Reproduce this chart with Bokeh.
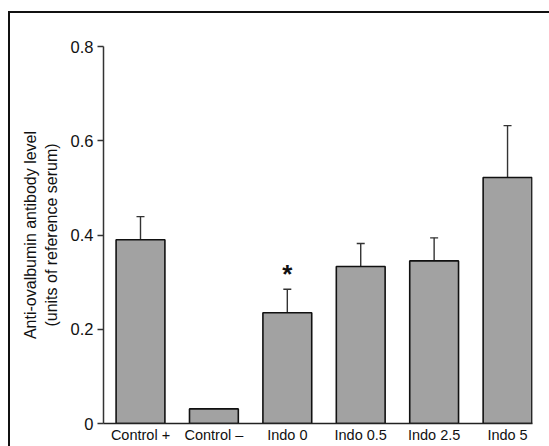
from bokeh.plotting import figure
from bokeh.models import FixedTicker, Whisker, ColumnDataSource, TeeHead
from bokeh.embed import file_html
from bokeh.resources import INLINE
from bokeh.core.properties import value

groups = ["Control +", "Control \u2013", "Indo 0", "Indo 0.5", "Indo 2.5", "Indo 5"]
levels = [0.390, 0.031, 0.235, 0.333, 0.345, 0.522]
errors = [0.049, 0.0, 0.050, 0.049, 0.049, 0.110]
y_ticks = [0, 0.2, 0.4, 0.6, 0.8]
y_tick_labels = ["0", "0.2", "0.4", "0.6", "0.8"]
star_group = 2
star_level = 0.318

xs = list(range(len(groups)))
src = ColumnDataSource(dict(x=xs, top=levels))

p = figure(width=539, height=433, output_backend="svg", toolbar_location=None,
           x_range=(-0.504, 5.34), y_range=(0, 0.8),
           min_border_left=93, min_border_right=17, min_border_top=33, min_border_bottom=23)
p.frame_width = 429
p.frame_height = 377
p.styles = {"border-top": "2px solid #111", "border-left": "2px solid #111",
            "margin-top": "11px", "margin-left": "8px"}

p.xgrid.visible = False
p.ygrid.visible = False
p.outline_line_color = None
p.background_fill_color = "white"

p.vbar(x="x", top="top", bottom=0, width=0.665, source=src,
       fill_color="#a2a2a2", line_color="#111111", line_width=1.6)

err_src = ColumnDataSource(dict(
    x=[x for x, e in zip(xs, errors) if e > 0],
    upper=[v + e for v, e in zip(levels, errors) if e > 0],
    lower=[v for v, e in zip(levels, errors) if e > 0],
))
w = Whisker(base="x", upper="upper", lower="lower", source=err_src, dimension="height",
            line_color="#333333", line_width=1.4,
            upper_head=TeeHead(size=8, line_color="#333333", line_width=1.4),
            lower_head=None)
p.add_layout(w)

p.text(x=[star_group], y=[star_level], text=["*"], text_align="center",
       text_baseline="middle", text_font=value("Liberation Sans"),
       text_font_size="26px", text_font_style="bold", text_color="#111111")

# y axis
p.yaxis.ticker = FixedTicker(ticks=y_ticks)
p.yaxis.major_label_overrides = {t: l for t, l in zip(y_ticks, y_tick_labels)}
p.yaxis.minor_tick_line_color = None
p.yaxis.major_tick_in = 0
p.yaxis.major_tick_out = 6
p.yaxis.axis_line_width = 1.5
p.yaxis.major_tick_line_width = 1.5
p.yaxis.axis_line_color = "#333333"
p.yaxis.major_tick_line_color = "#333333"
p.yaxis.major_label_text_font = "Liberation Sans"
p.yaxis.major_label_text_font_size = "16.5px"
p.yaxis.major_label_text_color = "#111111"
p.yaxis.major_label_standoff = 4
p.yaxis.axis_label = "Anti-ovalbumin antibody level\n(units of reference serum)"
p.yaxis.axis_label_text_font = "Liberation Sans"
p.yaxis.axis_label_text_font_size = "16px"
p.yaxis.axis_label_text_font_style = "normal"
p.yaxis.axis_label_text_color = "#111111"
p.yaxis.axis_label_standoff = 8

# x axis
p.xaxis.ticker = FixedTicker(ticks=xs)
p.xaxis.major_label_overrides = {x: g for x, g in zip(xs, groups)}
p.xaxis.minor_tick_line_color = None
p.xaxis.major_tick_line_color = None
p.xaxis.major_tick_out = 0
p.xaxis.major_tick_in = 0
p.xaxis.axis_line_width = 1.5
p.xaxis.axis_line_color = "#222222"
p.xaxis.major_label_text_font = "Liberation Sans"
p.xaxis.major_label_text_font_size = "14.5px"
p.xaxis.major_label_text_color = "#111111"
p.xaxis.major_label_standoff = 3

open("out.html", "w").write(file_html(p, INLINE))
